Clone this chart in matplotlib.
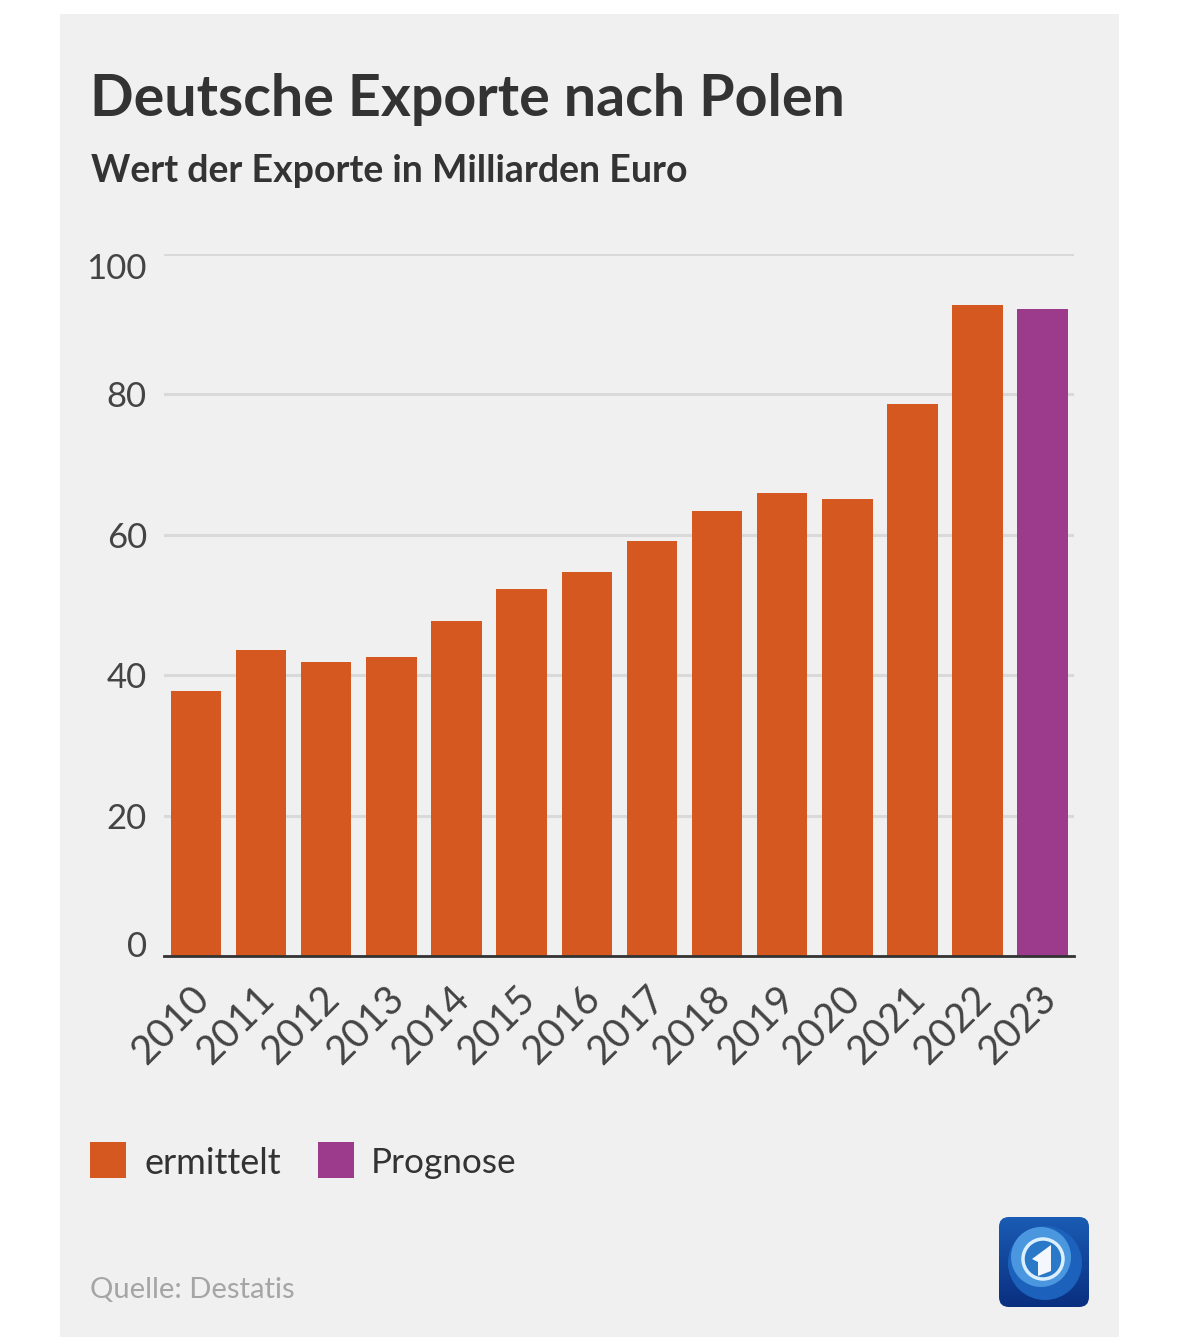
import numpy as np
import matplotlib
matplotlib.use('Agg')
import matplotlib.pyplot as plt
from matplotlib.colors import LinearSegmentedColormap
from matplotlib.patches import Rectangle, FancyBboxPatch, Circle, Polygon
from matplotlib.transforms import ScaledTranslation

years = ['2010','2011','2012','2013','2014','2015','2016','2017','2018','2019','2020','2021','2022','2023']
exports = [37.7,43.6,41.9,42.6,47.7,52.3,54.7,59.1,63.4,66.0,65.1,78.7,92.7,92.2]
yticks = [0,20,40,60,80,100]
ylabel_shift = [9,-3,-3,-3,-3,-15]

orange = '#d55820'
purple = '#9c3a8c'
bar_colors = [orange]*13 + [purple]

W, H = 1179, 1343
plt.rcParams['font.family'] = ['Lato', 'DejaVu Sans']

fig = plt.figure(figsize=(W/100, H/100), dpi=100, facecolor='white')

# grey card behind everything
fig.add_artist(Rectangle((60/W, 1-1337/H), 1059/W, 1323/H, transform=fig.transFigure, fc='#f0f0f0', ec='none', zorder=-5))

ax = fig.add_axes([164/W, 1-956/H, 910/W, 702/H])
ax.set_facecolor('none')
ax.bar(range(len(years)), exports, width=0.775, color=bar_colors, zorder=3)
ax.set_xlim(-0.49, 13.48)
ax.set_ylim(0, 100)
ax.set_yticks(yticks)
ax.set_yticklabels([])
ax.grid(axis='y', color='#d9d9d9', lw=2.2, zorder=0)
ax.set_axisbelow(True)
ax.tick_params(axis='both', length=0)
for s in ['top','right','left']:
    ax.spines[s].set_visible(False)
ax.spines['bottom'].set_linewidth(2)
ax.spines['bottom'].set_color('#333333')
ax.spines['bottom'].set_zorder(5)

# y labels are nudged off their grid lines at both ends
for v, shift in zip(yticks, ylabel_shift):
    ax.annotate(str(v), (0, v), xycoords=('axes fraction','data'), xytext=(-17, shift), textcoords='offset pixels',
                ha='right', va='center', fontsize=25, color='#444444')

ax.set_xticks(range(len(years)))
ax.set_xticklabels(years, rotation=45, ha='right', rotation_mode='anchor', fontsize=28.5, color='#444444')
ax.tick_params(axis='x', pad=15)
# year labels sit a bit left of the bar centres
nudge = ScaledTranslation(-6/100, -3/100, fig.dpi_scale_trans)
for lab in ax.get_xticklabels():
    lab.set_transform(lab.get_transform() + nudge)

fig.text(90/W, 1-99/H, 'Deutsche Exporte nach Polen', fontsize=41.3, fontweight='bold', color='#333333', va='center')
fig.text(91/W, 1-171/H, 'Wert der Exporte in Milliarden Euro', fontsize=27, fontweight='bold', color='#333333', va='center')

# legend by hand
fig.add_artist(Rectangle((90/W, 1-1178/H), 36/W, 36/H, transform=fig.transFigure, fc=orange, ec='none'))
fig.text(144/W, 1-1163/H, 'ermittelt', fontsize=26, color='#333333', va='center')
fig.add_artist(Rectangle((318/W, 1-1178/H), 36/W, 36/H, transform=fig.transFigure, fc=purple, ec='none'))
fig.text(371/W, 1-1163/H, 'Prognose', fontsize=25.3, color='#333333', va='center')

fig.text(90/W, 1-1290/H, 'Quelle: Destatis', fontsize=21, color='#a5a5a5', va='center')

# logo in pixel coords
logo = fig.add_axes([999/W, 1-1307/H, 90/W, 90/H])
logo.set_xlim(0, 90)
logo.set_ylim(90, 0)
logo.axis('off')
frame = FancyBboxPatch((8, 8), 74, 74, boxstyle='round,pad=8,rounding_size=10', fc='none', ec='none')
logo.add_patch(frame)
blues = LinearSegmentedColormap.from_list('logo', ['#1a5cb4', '#0a2f80'])
bg = logo.imshow(np.linspace(0, 1, 90).reshape(-1, 1), cmap=blues, extent=(0, 90, 90, 0), aspect='auto')
bg.set_clip_path(frame)
logo.add_patch(Circle((46, 46), 37, fc='#1c62bd', ec='none'))
logo.add_patch(Circle((42, 40), 30, fc='#4a97e0', ec='none'))
logo.add_patch(Circle((44, 42), 20, fc='#2a78c8', ec='#dcefff', lw=2.5))
logo.add_patch(Polygon([[33,42],[52,28],[52,54],[39,59],[39,45]], fc='#f4f8fc', ec='none'))

fig.savefig('out.png', dpi=100)
